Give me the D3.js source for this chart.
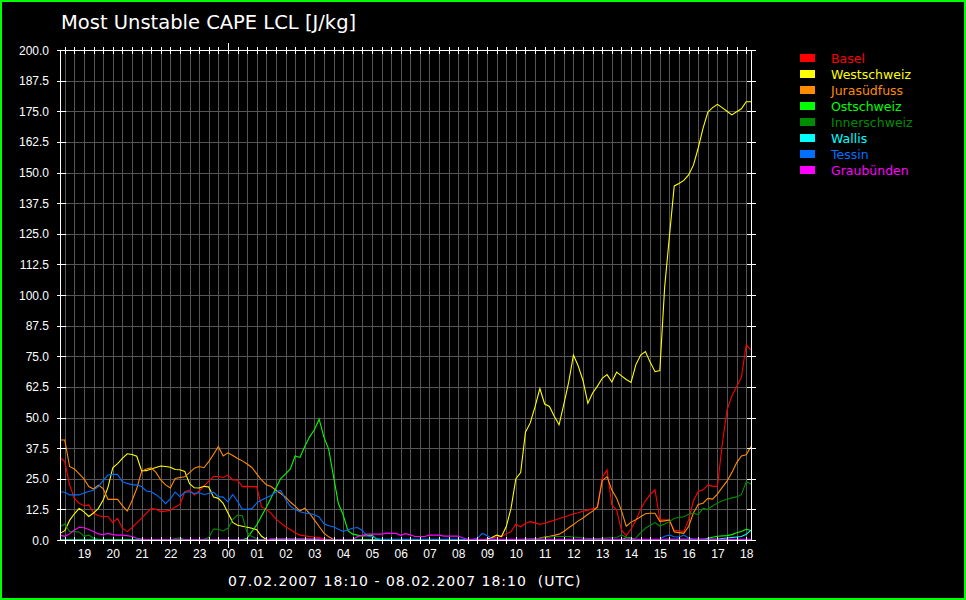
<!DOCTYPE html>
<html><head><meta charset="utf-8">
<script src="https://cdn.jsdelivr.net/npm/d3@7"></script>
<style>
html,body{margin:0;padding:0;background:#000;}
svg{display:block;}
text{white-space:pre;}
</style></head>
<body><svg id="c" width="966" height="600"></svg>
<script>
// ---- data: [minutes since 07.02.2007 18:10 UTC, CAPE J/kg] ----
const seriesNames = ["Basel","Westschweiz","Jurasüdfuss","Ostschweiz","Innerschweiz","Wallis","Tessin","Graubünden"];
const seriesColors = ["#ff0000","#ffff00","#ff8c00","#00ff00","#008c00","#00ffff","#0070ff","#ff00ff"];
const yTickValues = [0,12.5,25,37.5,50,62.5,75,87.5,100,112.5,125,137.5,150,162.5,175,187.5,200];
const hourLabels = ["19","20","21","22","23","00","01","02","03","04","05","06","07","08","09","10","11","12","13","14","15","16","17","18"];

const basel = [[0,33.7],[10,32],[20,22.5],[30,17],[40,15],[50,14],[60,14.3],[70,11],[80,9.9],[90,9.6],[100,9.6],[110,7.1],[120,8.8],[130,4.8],[140,3.4],[150,5],[160,7],[170,8.8],[180,11],[190,12.9],[200,12.5],[210,11.6],[220,11.8],[230,12.2],[240,13.5],[250,14.5],[260,19.7],[270,20.4],[280,18.4],[290,20],[300,22],[310,24],[320,25.9],[330,25.9],[340,25.5],[350,26.5],[360,24.5],[370,24.5],[380,21.8],[390,21.9],[400,21.8],[410,21.8],[420,13.5],[430,12.5],[440,10.9],[450,8.5],[460,7],[470,5.4],[480,4.3],[490,3],[500,2],[510,1.7],[520,1.4],[530,1.2],[540,1],[550,0.5],[560,0.2],[890,0.2],[900,0.6],[910,1.2],[920,1.4],[930,2.5],[940,3.4],[950,6.4],[960,5.4],[970,6.8],[980,7.5],[990,7],[1000,6.4],[1010,6.8],[1020,7.5],[1030,8.1],[1040,8.8],[1050,9.3],[1060,10],[1070,10.7],[1080,11.1],[1090,11.7],[1100,12.2],[1110,12.7],[1120,13.2],[1130,25.5],[1140,28.6],[1150,14.3],[1160,12.2],[1170,4],[1180,1.8],[1190,4.5],[1200,8],[1210,12.5],[1220,16],[1230,18.5],[1240,20.5],[1250,8.2],[1260,8.2],[1270,8],[1280,4],[1290,3.8],[1300,3.4],[1310,8.2],[1320,16],[1330,19.8],[1340,20.5],[1350,22.4],[1360,22],[1370,21.8],[1380,39],[1390,53],[1400,58.8],[1410,62.5],[1420,66.5],[1430,79.6],[1440,77.6]];

const westschweiz = [[0,2.7],[10,3.8],[20,8],[30,10.7],[40,12.9],[50,11.5],[60,9.6],[70,11],[80,12.9],[90,16.3],[100,21.5],[110,29.5],[120,31.2],[130,33.3],[140,35.2],[150,34.9],[160,34.2],[170,28.3],[180,28.3],[190,29],[200,29.6],[210,30.2],[220,30],[230,29.7],[240,28.8],[250,28.7],[260,28],[270,23],[280,21.3],[290,21.2],[300,21.9],[310,21.6],[320,17.5],[330,17],[340,15],[350,11],[360,7.2],[370,6],[380,5.6],[390,5.2],[400,4.8],[410,4.2],[420,1.5],[430,0.2],[440,0],[880,0],[890,0.4],[900,1],[910,2],[920,1.4],[930,5.5],[940,13],[950,25],[960,27.5],[970,44],[980,47.8],[990,54.4],[1000,61.8],[1010,55.5],[1020,54.5],[1030,50.5],[1040,47],[1050,55.5],[1060,64.3],[1070,75.5],[1080,71],[1090,65],[1100,55.8],[1110,60],[1120,62.8],[1130,66],[1140,67.5],[1150,64.5],[1160,68.5],[1170,67],[1180,65.5],[1190,64.3],[1200,71.5],[1210,75.5],[1220,76.9],[1230,72.5],[1240,68.7],[1250,69.2],[1260,103],[1270,124],[1280,144.5],[1290,145.5],[1300,146.8],[1310,149],[1320,153],[1330,160],[1340,168],[1350,174.6],[1360,176.5],[1370,177.8],[1380,176.5],[1390,175],[1400,173.5],[1410,174.8],[1420,176],[1430,178.9],[1440,178.9]];

const jurasuedfuss = [[0,40.8],[10,40.8],[20,30],[30,29],[40,27],[50,25],[60,21.8],[70,20.8],[80,22.4],[90,21],[100,16.6],[110,16.6],[120,16.6],[130,14],[140,11.8],[150,16],[160,21],[170,28],[180,29],[190,29.4],[200,27.6],[210,24.5],[220,22.5],[230,21.2],[240,25.1],[250,25.5],[260,25.8],[270,27.5],[280,29.3],[290,30],[300,29.5],[310,32],[320,35],[330,38.1],[340,34.3],[350,35.6],[360,34.5],[370,33.3],[380,32.3],[390,31],[400,29.6],[410,27],[420,24.5],[430,22.5],[440,21.8],[450,20.3],[460,19],[470,17.5],[480,15.5],[490,13.8],[500,11.8],[510,13],[520,10.9],[530,8.2],[540,5.5],[550,2.8],[560,1.3],[570,0.2],[580,0],[990,0],[1000,0.8],[1010,1.2],[1020,1.5],[1030,1.9],[1040,2.4],[1050,3.5],[1060,5],[1070,6.3],[1080,7.8],[1090,9],[1100,10.5],[1110,11.8],[1120,13.5],[1130,24.3],[1140,25.9],[1150,20.4],[1160,17],[1170,12],[1180,5.6],[1190,7.3],[1200,8.3],[1210,9.5],[1220,10.7],[1230,10.9],[1240,10.9],[1250,7.6],[1260,7.8],[1270,8.2],[1280,3.3],[1290,3],[1300,2.7],[1310,5.5],[1320,11],[1330,14.5],[1340,15],[1350,17],[1360,16.7],[1370,18.7],[1380,21.5],[1390,24],[1400,27.5],[1410,31.5],[1420,34.3],[1430,34.8],[1440,38.1]];

const ostschweiz = [[0,0],[380,0],[390,0.8],[400,3.5],[410,6.1],[420,9.8],[430,13.4],[440,17.2],[450,21.2],[460,25.1],[470,27],[480,29],[490,34.3],[500,33.7],[510,38.2],[520,42],[530,45],[540,49.3],[550,42],[560,37],[570,26],[580,15],[590,10.3],[600,3.8],[610,2.4],[620,2],[630,1.7],[640,1.8],[650,2],[660,0.3],[670,0],[1170,0],[1180,1],[1190,0.8],[1200,0],[1340,0],[1350,0.7],[1370,1.5],[1390,1.8],[1400,2.2],[1410,3],[1420,3.5],[1430,4.4],[1440,3.9]];

const innerschweiz = [[0,5.4],[10,6.5],[20,3.4],[30,3.4],[40,3.3],[50,1.5],[60,2],[70,0.7],[80,0.3],[90,0],[230,0],[240,0.6],[250,0.8],[260,0.2],[290,0],[300,0.3],[310,1],[320,4.5],[330,4.4],[340,3.7],[350,4.8],[360,8.3],[370,10.2],[380,9.9],[390,3],[400,1.4],[410,0.5],[420,0],[950,0],[960,0.3],[1000,0.7],[1030,1.4],[1060,1.4],[1090,0.8],[1110,0.5],[1160,1],[1170,2],[1180,1.2],[1190,0.3],[1200,0.8],[1210,3],[1220,4.8],[1230,6],[1240,7.1],[1250,5.7],[1260,6.5],[1270,7.5],[1280,8.9],[1290,9.2],[1300,9.5],[1310,10.5],[1320,10.9],[1330,10.4],[1340,12.9],[1350,12.5],[1360,14],[1370,15],[1380,16],[1390,16.6],[1400,17.2],[1410,17.6],[1420,18.5],[1430,23.8],[1440,22.9]];

const wallis = [[0,0],[1250,0],[1260,0.3],[1370,0.3],[1380,0.6],[1400,1],[1420,1.4],[1430,2.3],[1440,4]];

const tessin = [[0,19.7],[10,19.5],[20,18.4],[30,18.4],[40,18.4],[50,19.2],[60,19.8],[70,20.4],[80,21.8],[90,24.3],[100,26.5],[110,26.8],[120,26.8],[130,23.8],[140,23.1],[150,22.6],[160,22.4],[170,21.8],[180,20],[190,19.7],[200,18.5],[210,17],[220,14.8],[230,16.8],[240,19.6],[250,17.7],[260,19.5],[270,19.7],[280,19],[290,19.3],[300,18.6],[310,19],[320,19.5],[330,17.7],[340,17.5],[350,15.6],[360,18.6],[370,15.8],[380,12.5],[390,12.5],[400,12.8],[410,15.1],[420,16.3],[430,17.2],[440,18.2],[450,19.7],[460,20.2],[470,16.5],[480,13.8],[490,12.4],[500,11.5],[510,11],[520,10.8],[530,10.3],[540,9.4],[550,6.6],[560,5.8],[570,5.4],[580,4.4],[590,3.5],[600,4.2],[610,4.8],[620,5.1],[630,3.9],[640,1.7],[650,1.2],[660,0.7],[670,0.3],[860,0.3],[870,0.7],[880,2.7],[890,1.8],[900,0.5],[910,0.3],[1250,0.3],[1260,1.5],[1270,2],[1280,1.3],[1290,1.2],[1300,2],[1310,0.8],[1320,0.3],[1440,0.3]];

const graubuenden = [[0,2],[10,1.5],[20,2.5],[30,4.1],[40,5.2],[50,5],[60,4.3],[70,3.5],[80,2.5],[90,2.2],[100,2.7],[110,2.2],[120,2],[130,2],[140,1.8],[150,1.4],[160,0.7],[170,0.4],[180,0.2],[430,0],[440,0.5],[540,0.5],[550,0],[610,0],[620,1.4],[630,1.9],[640,2.4],[650,2.4],[660,2.4],[670,2.4],[680,2.8],[690,2.7],[700,2.7],[710,1.9],[720,2.6],[730,2.1],[740,1.4],[750,1.4],[760,1.4],[770,2],[780,2],[790,2],[800,1.6],[810,1.6],[820,1.6],[830,1.6],[840,0.8],[850,0.2],[1440,0.2]];

const seriesData = [basel, westschweiz, jurasuedfuss, ostschweiz, innerschweiz, wallis, tessin, graubuenden];

// ---- chart ----
const svg = d3.select("#c");
const W = 966, H = 600;
const pL = 60, pR = 751, pT = 50, pB = 540;
const t0 = Date.UTC(2007,1,7,18,10);
const t1 = t0 + 24*3600*1000;
const x = d3.scaleUtc().domain([t0, t1]).range([pL, pR]);
const y = d3.scaleLinear().domain([0, 200]).range([pB, pT]);
const tOf = m => new Date(t0 + m*60000);

svg.append("rect").attr("x",0).attr("y",0).attr("width",W).attr("height",H).attr("fill","#000");
svg.append("rect").attr("x",1).attr("y",1).attr("width",W-2).attr("height",H-2)
  .attr("fill","none").attr("stroke","#00ff00").attr("stroke-width",2);

// title
svg.append("text").attr("x",61).attr("y",29).attr("fill","#fff")
  .attr("font-family","DejaVu Sans").attr("font-size",19.5)
  .text("Most Unstable CAPE LCL [J/kg]");

const g = svg.append("g").attr("shape-rendering","crispEdges");
// grid
const minuteTicks = x.ticks(d3.utcMinute.every(20));
g.selectAll(".vg").data(minuteTicks).join("line")
  .attr("x1",d=>Math.round(x(d))+0.5).attr("x2",d=>Math.round(x(d))+0.5)
  .attr("y1",pT).attr("y2",pB).attr("stroke","#555").attr("stroke-width",1);
g.selectAll(".hg").data(yTickValues).join("line")
  .attr("x1",pL).attr("x2",pR)
  .attr("y1",d=>Math.round(y(d))+0.5).attr("y2",d=>Math.round(y(d))+0.5)
  .attr("stroke","#555").attr("stroke-width",1);

// series lines
const line = d3.line().x(d=>x(tOf(d[0]))).y(d=>y(d[1]));
svg.append("g").selectAll("path").data(seriesData).join("path")
  .attr("d", line).attr("fill","none")
  .attr("stroke",(d,i)=>seriesColors[i]).attr("stroke-width",1.1)
  .attr("stroke-linejoin","miter");

// frame
const fr = svg.append("g").attr("shape-rendering","crispEdges").attr("stroke","#fff").attr("stroke-width",1);
fr.append("rect").attr("x",pL+0.5).attr("y",pT+0.5).attr("width",pR-pL).attr("height",pB-pT).attr("fill","none");
fr.selectAll(".yl").data(yTickValues).join("line")
  .attr("x1",pL-3).attr("x2",pL+6)
  .attr("y1",d=>Math.round(y(d))+0.5).attr("y2",d=>Math.round(y(d))+0.5);
fr.selectAll(".yr").data(yTickValues).join("line")
  .attr("x1",pR-4).attr("x2",pR+5)
  .attr("y1",d=>Math.round(y(d))+0.5).attr("y2",d=>Math.round(y(d))+0.5);
const isMid = d => d.getUTCHours()===0 && d.getUTCMinutes()===0;
fr.selectAll(".xb").data(minuteTicks).join("line")
  .attr("x1",d=>Math.round(x(d))+0.5).attr("x2",d=>Math.round(x(d))+0.5)
  .attr("y1",pB-3).attr("y2",d=>isMid(d)?pB+8:pB+4);
fr.selectAll(".xt").data(minuteTicks).join("line")
  .attr("x1",d=>Math.round(x(d))+0.5).attr("x2",d=>Math.round(x(d))+0.5)
  .attr("y1",d=>isMid(d)?pT-7:pT-3).attr("y2",pT+4);

// y labels
svg.append("g").selectAll("text").data(yTickValues).join("text")
  .attr("x",49).attr("y",d=>y(d)+4.5).attr("text-anchor","end")
  .attr("fill","#fff").attr("font-family","Liberation Sans").attr("font-size",12)
  .text(d=>d.toFixed(1));

// hour labels via axis
const hourTicks = x.ticks(d3.utcHour.every(1)).filter(d=>d.getTime()>t0 && d.getTime()<t1);
const xAxis = d3.axisBottom(x).tickValues(hourTicks).tickSize(0).tickPadding(0)
  .tickFormat((d,i)=>hourLabels[i]);
const ax = svg.append("g").attr("transform",`translate(0,${pB})`).call(xAxis);
ax.select(".domain").remove();
ax.selectAll("text").attr("y",18).attr("dy",0).attr("fill","#fff")
  .attr("font-family","Liberation Sans").attr("font-size",12);

// date label
svg.append("text").attr("x",228).attr("y",586).attr("fill","#fff")
  .attr("font-family","DejaVu Sans").attr("font-size",14).attr("letter-spacing",1)
  .text("07.02.2007 18:10 - 08.02.2007 18:10  (UTC)");

// legend
const lg = svg.append("g");
seriesNames.forEach((n,i)=>{
  lg.append("rect").attr("x",800).attr("y",54+i*16).attr("width",15).attr("height",8).attr("fill",seriesColors[i]);
  lg.append("text").attr("x",831).attr("y",63+i*16).attr("fill",seriesColors[i])
    .attr("font-family","DejaVu Sans").attr("font-size",12.5).text(n);
});
</script></body></html>
